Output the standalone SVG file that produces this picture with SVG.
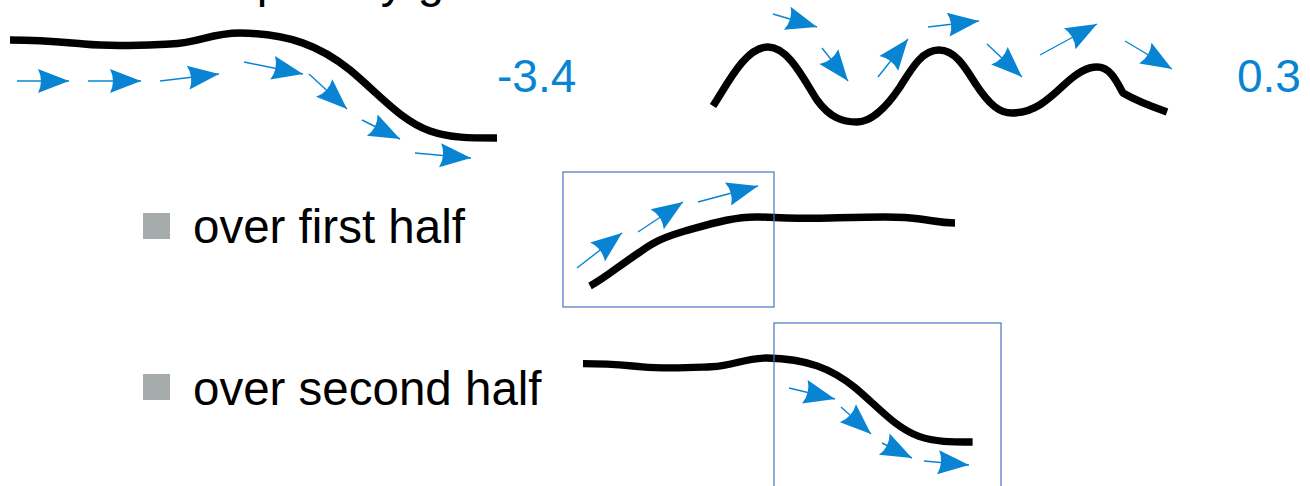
<svg xmlns="http://www.w3.org/2000/svg" width="1310" height="486" viewBox="0 0 1310 486">
<style>
.curve{fill:none;stroke:#000;stroke-width:7.5;stroke-linejoin:round}
.arr{fill:none;stroke:#0984d3;stroke-width:1.4;marker-end:url(#ah)}
.box{fill:none;stroke:#4a73c6;stroke-width:1.2}
.bul{fill:#a6acac}
.txt{font-family:"Liberation Sans",Arial,sans-serif;font-size:47.5px;fill:#000}
.val{font-family:"Liberation Sans",Arial,sans-serif;font-size:46px;fill:#0984d3}
</style>
<defs>
<marker id="ah" markerUnits="userSpaceOnUse" markerWidth="36" markerHeight="28" viewBox="-34 -14 36 28" refX="0" refY="0" orient="auto">
<path d="M0,0 L-31,-12 Q-25,0 -31,12 Z" fill="#0984d3"/>
</marker>
</defs>
<rect width="1310" height="486" fill="#fff"/>
<text class="txt" x="233" y="-3" font-size="44">spatially g</text>

<g id="example-steep">
<path class="curve" d="M10,40 C45,40 60,42 84,44 C115,47 145,45 170,44 C200,43 210,33 240,33 C290,34 320,46 350,70 C380,95 400,120 430,131 C450,138 470,138 497,138"/>
<text class="val" x="497" y="92">-3.4</text>
</g>

<g id="example-wave">
<path class="curve" d="M713,106 C727,85 745,47 768,47 C788,47 803,78 817,100 C830,118 843,122 857,122 C872,122 888,105 900,87 C912,68 922,50 939,50 C955,50 965,67 975,83 C990,106 1000,113 1012,113 C1035,113 1050,98 1065,84 C1078,72 1087,67 1097,67 C1110,67 1116,80 1123,93 C1135,100 1150,106 1167,112"/>
<text class="val" x="1237" y="92">0.3</text>
</g>

<g id="bullet-first">
<rect class="bul" x="143" y="213" width="27" height="26"/>
<text class="txt" x="193" y="243">over first half</text>
</g>

<g id="bullet-second">
<rect class="bul" x="143" y="374" width="27" height="26"/>
<text class="txt" x="193" y="405">over second half</text>
</g>

<g id="first-half">
<path class="curve" d="M590,286 C605,278 620,265 640,252 C655,241 665,237 685,231 C710,224 735,216 760,217 C780,218 800,219 830,218 C870,217 900,216 920,219 C935,221 940,223 955,223"/>
<rect class="box" x="563" y="172" width="211" height="135"/>
</g>

<g id="second-half">
<path class="curve" transform="translate(575,331.6) scale(0.8)" style="stroke-width:9.2" d="M10,40 C45,40 60,42 84,44 C115,47 145,45 170,44 C200,43 210,33 240,33 C290,34 320,46 350,70 C380,95 400,120 430,131 C450,138 470,138 497,138"/>
<rect class="box" x="774" y="323" width="227" height="180"/>
</g>

<g id="connectors">
<line class="arr" x1="17" y1="81" x2="69" y2="81"/>
<line class="arr" x1="88" y1="81" x2="141" y2="81"/>
<line class="arr" x1="160" y1="81" x2="219" y2="74"/>
<line class="arr" x1="244" y1="62" x2="303" y2="74"/>
<line class="arr" x1="309" y1="74" x2="347" y2="109"/>
<line class="arr" x1="362" y1="120" x2="400" y2="139"/>
<line class="arr" x1="415" y1="153" x2="471" y2="158"/>

<line class="arr" x1="773" y1="14" x2="817" y2="27"/>
<line class="arr" x1="822" y1="48" x2="848" y2="81"/>
<line class="arr" x1="878" y1="77" x2="908" y2="39"/>
<line class="arr" x1="928" y1="27" x2="979" y2="21"/>
<line class="arr" x1="987" y1="44" x2="1022" y2="77"/>
<line class="arr" x1="1040" y1="55" x2="1097" y2="24"/>
<line class="arr" x1="1125" y1="41" x2="1172" y2="69"/>

<line class="arr" x1="577" y1="268" x2="622" y2="233"/>
<line class="arr" x1="638" y1="232" x2="683" y2="202"/>
<line class="arr" x1="698" y1="202" x2="758" y2="186"/>

<line class="arr" x1="789" y1="388" x2="835" y2="399"/>
<line class="arr" x1="841" y1="407" x2="871" y2="434"/>
<line class="arr" x1="882" y1="443" x2="912" y2="458"/>
<line class="arr" x1="924" y1="461" x2="969" y2="465"/>
</g>
</svg>
